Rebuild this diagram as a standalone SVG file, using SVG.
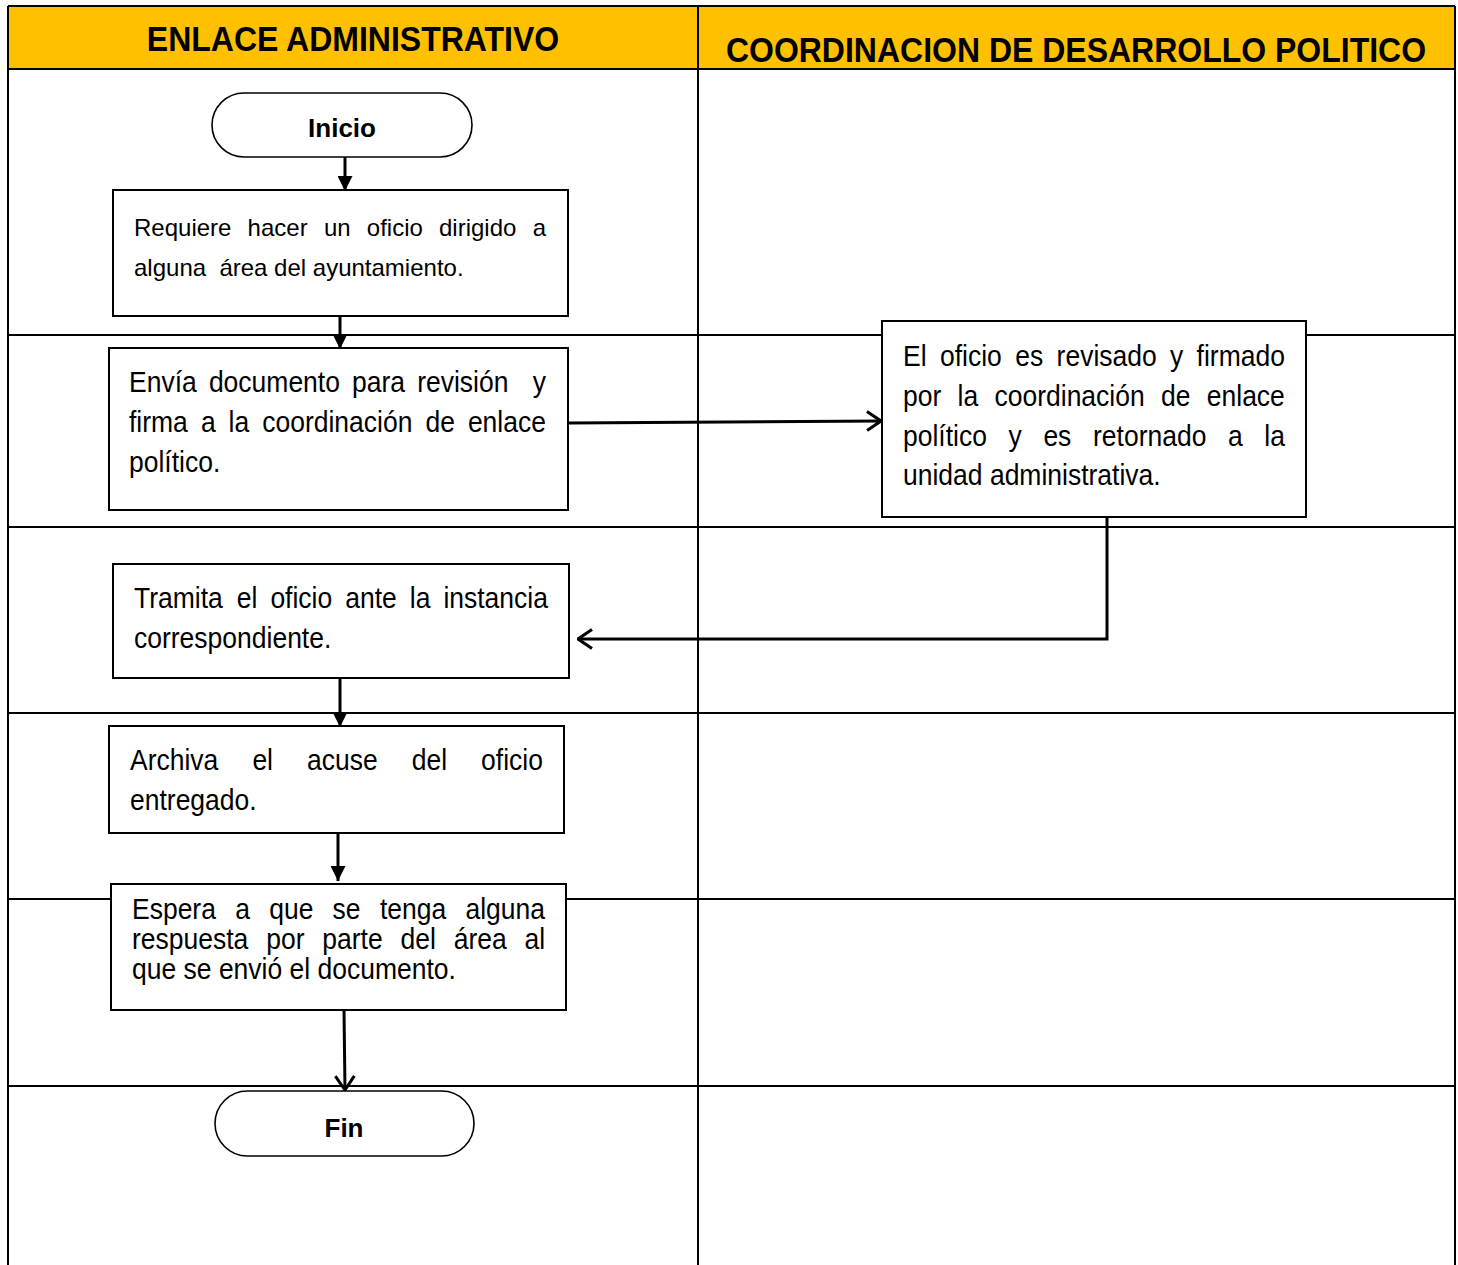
<svg xmlns="http://www.w3.org/2000/svg" width="1458" height="1265" viewBox="0 0 1458 1265">
<style>
.grid{stroke:#000;stroke-width:2;fill:none}
.box{fill:#fff;stroke:#000;stroke-width:2}
.term{fill:#fff;stroke:#000;stroke-width:1.6}
.hdr{font-family:"Liberation Sans",Arial,sans-serif;font-weight:bold;font-size:32px;fill:#000;text-anchor:middle}
.t{font-family:"Liberation Sans",Arial,sans-serif;font-size:26.5px;fill:#000}
.t1{font-family:"Liberation Sans",Arial,sans-serif;font-size:24px;fill:#000}
.tb{font-family:"Liberation Sans",Arial,sans-serif;font-weight:bold;font-size:26px;fill:#000;text-anchor:middle}
.conn{stroke:#000;stroke-width:3;fill:none}
</style>
<defs>
<marker id="fill" viewBox="0 0 15 15" refX="15" refY="7.5" markerWidth="15" markerHeight="15" markerUnits="userSpaceOnUse" orient="auto">
<path d="M0,0 L15,7.5 L0,15 z" fill="#000"/>
</marker>
<marker id="open" viewBox="0 0 16 22" refX="15" refY="11" markerWidth="16" markerHeight="22" markerUnits="userSpaceOnUse" orient="auto">
<path d="M1,1.5 L15,11 L1,20.5" fill="none" stroke="#000" stroke-width="3"/>
</marker>
</defs>
<rect x="0" y="0" width="1458" height="1265" fill="#fff"/>
<g id="lanes">
<rect x="8" y="6" width="1447" height="63" fill="#FFC000"/>
<path class="grid" d="M8,6 H1455 M8,69 H1455 M8,335 H1455 M8,527 H1455 M8,713 H1455 M8,899 H1455 M8,1086 H1455 M8,6 V1265 M698,6 V1265 M1455,6 V1265"/>
<text class="hdr" transform="translate(353 51) scale(1 1.1)">ENLACE ADMINISTRATIVO</text>
<text class="hdr" transform="translate(1076 62) scale(1 1.1)">COORDINACION DE DESARROLLO POLITICO</text>
</g>
<g id="connectors">
<line class="conn" x1="345" y1="157" x2="345" y2="191" marker-end="url(#fill)"/>
<line class="conn" x1="340" y1="316" x2="340" y2="349" marker-end="url(#fill)"/>
<line class="conn" x1="569" y1="423" x2="881" y2="421" marker-end="url(#open)"/>
<polyline class="conn" points="1107,517 1107,639 578,639" marker-end="url(#open)"/>
<line class="conn" x1="340" y1="678" x2="340" y2="727" marker-end="url(#fill)"/>
<line class="conn" x1="338" y1="834" x2="338" y2="881" marker-end="url(#fill)"/>
<line class="conn" x1="344" y1="1010" x2="345" y2="1090" marker-end="url(#open)"/>
</g>
<g id="inicio">
<rect class="term" x="212" y="93" width="260" height="64" rx="32" ry="32"/>
<text class="tb" x="342" y="137">Inicio</text>
</g>
<g id="requiere">
<rect class="box" x="113" y="190" width="455" height="126"/>
<text class="t1" y="236"><tspan x="134">Requiere</tspan><tspan x="247.6">hacer</tspan><tspan x="323.9">un</tspan><tspan x="366.8">oficio</tspan><tspan x="439">dirigido</tspan><tspan x="532.7">a</tspan></text>
<text class="t1" x="134" y="276" xml:space="preserve">alguna  área del ayuntamiento.</text>
</g>
<g id="envia">
<rect class="box" x="109" y="348" width="459" height="162"/>
<text class="t" transform="translate(0 392) scale(1 1.1)"><tspan x="129">Envía</tspan><tspan x="208.9">documento</tspan><tspan x="352.1">para</tspan><tspan x="417.2">revisión</tspan><tspan x="532.7">y</tspan></text>
<text class="t" transform="translate(0 432) scale(1 1.1)"><tspan x="129">firma</tspan><tspan x="200.9">a</tspan><tspan x="228.6">la</tspan><tspan x="262.2">coordinación</tspan><tspan x="425.4">de</tspan><tspan x="467.9">enlace</tspan></text>
<text class="t" transform="translate(129 472) scale(1 1.1)">político.</text>
</g>
<g id="revisado">
<rect class="box" x="882" y="321" width="424" height="196"/>
<text class="t" transform="translate(0 366) scale(1 1.1)"><tspan x="903">El</tspan><tspan x="940">oficio</tspan><tspan x="1015.2">es</tspan><tspan x="1056.6">revisado</tspan><tspan x="1170">y</tspan><tspan x="1196.6">firmado</tspan></text>
<text class="t" transform="translate(0 406) scale(1 1.1)"><tspan x="903">por</tspan><tspan x="957.6">la</tspan><tspan x="994.5">coordinación</tspan><tspan x="1161">de</tspan><tspan x="1206.8">enlace</tspan></text>
<text class="t" transform="translate(0 446) scale(1 1.1)"><tspan x="903">político</tspan><tspan x="1008.6">y</tspan><tspan x="1043.4">es</tspan><tspan x="1093">retornado</tspan><tspan x="1228">a</tspan><tspan x="1264.3">la</tspan></text>
<text class="t" transform="translate(903 485) scale(1 1.1)">unidad administrativa.</text>
</g>
<g id="tramita">
<rect class="box" x="113" y="564" width="456" height="114"/>
<text class="t" transform="translate(0 608) scale(1 1.1)"><tspan x="134">Tramita</tspan><tspan x="236.8">el</tspan><tspan x="270.4">oficio</tspan><tspan x="345.2">ante</tspan><tspan x="409.8">la</tspan><tspan x="443.4">instancia</tspan></text>
<text class="t" transform="translate(134 648) scale(1 1.1)">correspondiente.</text>
</g>
<g id="archiva">
<rect class="box" x="109" y="726" width="455" height="107"/>
<text class="t" transform="translate(0 770) scale(1 1.1)"><tspan x="130">Archiva</tspan><tspan x="252.4">el</tspan><tspan x="307">acuse</tspan><tspan x="411.7">del</tspan><tspan x="481.1">oficio</tspan></text>
<text class="t" transform="translate(130 810) scale(1 1.1)">entregado.</text>
</g>
<g id="espera">
<rect class="box" x="111" y="884" width="455" height="126"/>
<text class="t" transform="translate(0 919) scale(1 1.1)"><tspan x="132">Espera</tspan><tspan x="235.2">a</tspan><tspan x="269.2">que</tspan><tspan x="332.6">se</tspan><tspan x="379.9">tenga</tspan><tspan x="465.4">alguna</tspan></text>
<text class="t" transform="translate(0 949) scale(1 1.1)"><tspan x="132">respuesta</tspan><tspan x="266.2">por</tspan><tspan x="322.3">parte</tspan><tspan x="400.5">del</tspan><tspan x="453.7">área</tspan><tspan x="524.5">al</tspan></text>
<text class="t" transform="translate(132 979) scale(1 1.1)">que se envió el documento.</text>
</g>
<g id="fin">
<rect class="term" x="215" y="1091" width="259" height="65" rx="32.5" ry="32.5"/>
<text class="tb" x="344" y="1137">Fin</text>
</g>
</svg>
